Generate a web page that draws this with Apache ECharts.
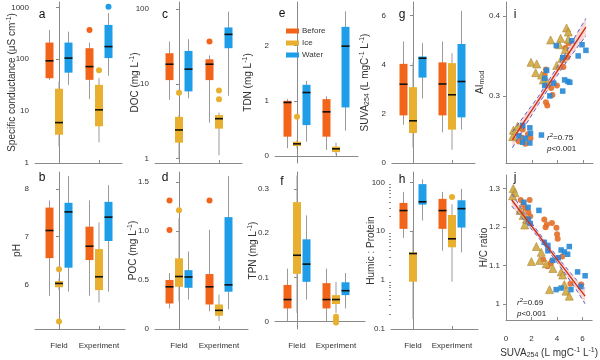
<!DOCTYPE html>
<html><head><meta charset="utf-8">
<script src="https://cdn.jsdelivr.net/npm/echarts@6/dist/echarts.min.js"></script>
<style>html,body{margin:0;padding:0;background:#fff}#c{width:600px;height:360px}</style>
</head><body><div id="c"></div>
<script>
// ---------- DATA ----------
const categories = ['Field', 'Experiment'];
const groups = ['Before', 'Ice', 'Water'];
// box stats per category: [min, Q1, median, Q3, max]
const condBefore = [[40, 43, 93, 209, 365], [17, 40, 72, 163, 209]];
const condIce    = [[2.1, 3.5, 6.0, 27, 37], [2.5, 5.1, 10.6, 32, 43]];
const condWater  = [[32, 55, 105, 209, 340], [48, 105, 175, 458, 770]];
const condOutBefore = [[], [365]];
const condOutIce    = [[], [61]];
const condOutWater  = [[], [1030]];

const phBefore = [[5.76, 6.55, 7.13, 7.61, 7.76], [5.76, 6.51, 6.80, 7.21, 7.76]];
const phIce    = [[5.88, 5.94, 6.02, 6.07, 6.12], [5.62, 5.88, 6.16, 6.74, 7.30]];
const phWater  = [[5.85, 6.35, 7.52, 7.71, 8.27], [5.85, 6.91, 7.41, 7.73, 8.08]];
const phOutBefore = [[], []];
const phOutIce    = [[6.32, 5.22], []];
const phOutWater  = [[], []];

const docBefore = [[6.1, 11.2, 18.3, 25.7, 36.8], [3.0, 11.2, 18.3, 21.3, 24]];
const docIce    = [[1.0, 1.62, 2.4, 3.6, 3.8], [1.1, 2.5, 3.4, 3.8, 4.1]];
const docWater  = [[6.4, 7.9, 15.7, 27.6, 39.6], [6.9, 30, 46, 57, 93]];
const docOutBefore = [[], [36.8]];
const docOutIce    = [[7.6], [8.1, 6.2]];
const docOutWater  = [[], []];

const pocBefore = [[0.21, 0.26, 0.43, 0.50, 0.57], [0.18, 0.25, 0.43, 0.56, 1.01]];
const pocIce    = [[0.28, 0.43, 0.535, 0.72, 1.13], [0.08, 0.135, 0.19, 0.25, 0.35]];
const pocWater  = [[0.30, 0.42, 0.53, 0.60, 0.79], [0.20, 0.38, 0.45, 1.14, 1.56]];
const pocOutBefore = [[1.31, 1.01], [1.31]];
const pocOutIce    = [[1.21], []];
const pocOutWater  = [[], []];

const tdnBefore = [[0.14, 0.35, 0.97, 1.0, 1.03], [0.11, 0.35, 0.80, 1.03, 1.08]];
const tdnIce    = [[0.14, 0.18, 0.22, 0.26, 0.29], [0.02, 0.07, 0.13, 0.17, 0.24]];
const tdnWater  = [[0.26, 0.56, 1.15, 1.29, 1.36], [0.46, 0.88, 1.99, 2.34, 2.62]];
const tdnOutBefore = [[], []];
const tdnOutIce    = [[0.71], []];
const tdnOutWater  = [[], []];

const tpnBefore = [[0.0, 0.03, 0.05, 0.083, 0.12], [0.0, 0.03, 0.05, 0.087, 0.12]];
const tpnIce    = [[0.02, 0.108, 0.15, 0.27, 0.33], [0.02, 0.04, 0.05, 0.06, 0.09]];
const tpnWater  = [[0.05, 0.09, 0.13, 0.186, 0.24], [0.03, 0.06, 0.07, 0.089, 0.11]];
const tpnOutBefore = [[], []];
const tpnOutIce    = [[], [0.011, 0.004, -0.002]];
const tpnOutWater  = [[], []];

const suvaBefore = [[1.56, 1.94, 3.21, 4.04, 4.95], [1.25, 1.94, 3.22, 4.10, 4.95]];
const suvaIce    = [[0.64, 1.22, 1.72, 3.09, 4.09], [0.54, 1.36, 2.78, 4.07, 4.47]];
const suvaWater  = [[2.63, 3.48, 4.27, 4.34, 4.88], [1.36, 1.86, 3.32, 4.85, 6.2]];
const suvaOut = [[], []];

const hpBefore = [[7.3, 11.2, 26.5, 38, 64], [4.0, 11.2, 26.5, 46, 64]];
const hpIce    = [[0.16, 0.93, 3.5, 3.7, 10.4], [0.93, 4.7, 7.0, 21.5, 35.6]];
const hpWater  = [[16.6, 35, 40, 92, 115], [3.7, 11.9, 29, 43, 74]];
const hpOutBefore = [[], []];
const hpOutIce    = [[], [50]];
const hpOutWater  = [[], []];

// scatter panel i: [SUVA254, AImod]
const aiBefore = [[4.85,0.366],[4.6,0.360],[4.75,0.348],[4.45,0.336],[3.1,0.333],[3.0,0.327],[3.95,0.313],[3.5,0.310],[3.6,0.301],[3.1,0.292],[3.2,0.288],[1.3,0.258],[1.7,0.252],[1.9,0.247],[1.5,0.240],[1.2,0.248],[1.0,0.243]];
const aiIce = [[0.52,0.249],[0.57,0.257],[0.9,0.262],[1.94,0.342],[2.38,0.340],[2.30,0.329],[2.76,0.326],[2.89,0.320],[3.2,0.318],[3.46,0.370],[3.93,0.338],[4.13,0.364],[4.24,0.372],[4.32,0.347],[4.70,0.385],[4.83,0.380],[4.83,0.371],[4.6,0.358]];
const aiWater = [[5.1,0.369],[5.9,0.364],[6.2,0.357],[5.6,0.350],[3.9,0.363],[4.4,0.348],[3.15,0.332],[3.0,0.322],[4.55,0.320],[4.8,0.318],[4.95,0.317],[3.0,0.313],[3.7,0.316],[4.4,0.306],[3.4,0.300],[1.3,0.263],[1.85,0.260],[1.9,0.253],[1.0,0.250],[1.3,0.242],[1.85,0.241],[1.5,0.247],[2.75,0.251]];
const aiFitX = [0.5, 1.5, 2.5, 3.5, 4.5, 5.5, 6.2];
const aiFit  = [0.245, 0.270, 0.294, 0.319, 0.344, 0.369, 0.386];
const aiUp   = [0.255, 0.277, 0.299, 0.324, 0.350, 0.378, 0.397];
const aiLo   = [0.235, 0.263, 0.289, 0.314, 0.338, 0.360, 0.375];

// scatter panel j: [SUVA254, H/C]
const hcBefore = [[1.15,1.270],[1.85,1.270],[1.35,1.258],[1.5,1.248],[1.75,1.238],[1.9,1.228],[3.0,1.219],[3.2,1.206],[3.6,1.210],[3.1,1.199],[3.95,1.198],[4.0,1.181],[4.05,1.169],[2.9,1.115],[3.6,1.112],[4.4,1.123],[3.25,1.098],[3.5,1.105],[5.05,1.052],[5.9,1.050]];
const hcIce = [[0.57,1.30],[0.70,1.289],[0.52,1.281],[1.09,1.243],[1.34,1.230],[1.47,1.205],[1.6,1.22],[2.38,1.149],[2.76,1.134],[1.99,1.110],[2.64,1.113],[3.15,1.104],[3.67,1.092],[4.32,1.083],[4.44,1.075],[4.57,1.050],[3.41,1.037],[4.70,1.033],[4.96,1.020]];
const hcWater = [[1.4,1.264],[1.73,1.251],[2.58,1.243],[1.9,1.209],[1.75,1.22],[3.28,1.152],[3.28,1.138],[3.0,1.16],[4.32,1.140],[4.57,1.135],[4.96,1.149],[4.83,1.129],[3.67,1.113],[4.1,1.12],[5.61,1.083],[6.2,1.073],[5.87,1.045],[3.93,1.037],[4.32,1.041],[5.09,1.037]];
const hcFitX = [0.45, 1.5, 2.5, 3.5, 4.5, 5.5, 6.2];
const hcFit  = [1.270, 1.224, 1.181, 1.137, 1.094, 1.050, 1.020];
const hcUp   = [1.286, 1.234, 1.188, 1.144, 1.103, 1.063, 1.040];
const hcLo   = [1.254, 1.214, 1.174, 1.130, 1.085, 1.037, 1.000];

// ---------- STYLE / LAYOUT ----------
const COLORS = ['#f26419', '#e9b02f', '#1e9ee8'];
const SC = {Before: '#e4702a', Ice: '#d2aa45', Water: '#2a8ad6'};
const AX = '#8a8a8a';
const TXT = '#333';
const FONT = 'Liberation Sans, Arial, sans-serif';
const OFFS = [-9.5, 0, 9.5];
const BOXW = 8;
const TICKF = 8, TITLEF = 10;
const RICH = {
  sup: {fontSize: 7, padding: [0, 0, 5, 0], fontFamily: FONT, color: TXT},
  sub: {fontSize: 7, padding: [5, 0, 0, 0], fontFamily: FONT, color: TXT}
};

// panel layouts: grid box + category tick pixel positions
const P = {
  a: {left: 35, top: 2, width: 87, height: 161, f: 59, e: 99},
  c: {left: 155, top: 2, width: 87, height: 161, f: 179, e: 219},
  e: {left: 275, top: 2, width: 83, height: 161, f: 297, e: 336},
  g: {left: 392, top: 2, width: 83, height: 161, f: 413, e: 452},
  i: {left: 506, top: 2, width: 87, height: 161},
  b: {left: 35, top: 172, width: 90, height: 157, f: 59, e: 99},
  d: {left: 155, top: 172, width: 93, height: 157, f: 179, e: 219},
  f: {left: 275, top: 172, width: 90, height: 157, f: 297, e: 336},
  h: {left: 391, top: 172, width: 87, height: 157, f: 413, e: 452},
  j: {left: 506, top: 175, width: 87, height: 150}
};
const order = ['a', 'c', 'e', 'g', 'i', 'b', 'd', 'f', 'h', 'j'];

const grids = [], xAxes = [], yAxes = [], series = [];

function yAxisDef(gi, o) {
  return Object.assign({
    gridIndex: gi, type: 'value', nameLocation: 'middle', nameRotate: 90, nameMoveOverlap: false,
    nameTextStyle: {fontSize: TITLEF, color: TXT, fontFamily: FONT, rich: RICH},
    axisLine: {show: true, lineStyle: {color: AX}},
    axisTick: {show: true, length: 3, lineStyle: {color: AX}, customValues: o.ticks},
    axisLabel: {fontSize: TICKF, color: TXT, fontFamily: FONT, margin: 6, customValues: o.ticks, formatter: o.fmt || (v => String(v))},
    splitLine: {show: false}
  }, o.axis);
}

function catXAxis(gi, L, showLabels) {
  const u = L.e - L.f;
  return {
    gridIndex: gi, type: 'value',
    min: -(L.f - L.left) / u, max: 1 + (L.left + L.width - L.e) / u,
    axisLine: {show: true, lineStyle: {color: AX}}, splitLine: {show: false},
    axisTick: {show: true, inside: true, length: 3, lineStyle: {color: AX}, customValues: [0, 1]},
    axisLabel: {show: showLabels, customValues: [0, 1], fontSize: TICKF, color: TXT, fontFamily: FONT, margin: 13,
      formatter: v => categories[Math.round(v)]}
  };
}

function boxSeries(gi, arrs, outs) {
  return groups.map((g, k) => {
    const stats = arrs[k], out = outs[k];
    return {
      type: 'custom', name: g, xAxisIndex: gi, yAxisIndex: gi, clip: false,
      itemStyle: {color: COLORS[k]},
      encode: {x: 0, y: [1, 2, 3, 4, 5]},
      data: stats.map((s, ci) => [ci].concat(s)),
      renderItem: function (params, api) {
        const ci = api.value(0);
        const cx = api.coord([ci, api.value(3)])[0] + OFFS[k];
        const yMin = api.coord([ci, api.value(1)])[1];
        const yQ1 = api.coord([ci, api.value(2)])[1];
        const yMed = api.coord([ci, api.value(3)])[1];
        const yQ3 = api.coord([ci, api.value(4)])[1];
        const yMax = api.coord([ci, api.value(5)])[1];
        const children = [
          {type: 'line', shape: {x1: cx, y1: yMin, x2: cx, y2: yMax}, style: {stroke: '#9a9a9a', lineWidth: 1}},
          {type: 'rect', shape: {x: cx - BOXW / 2, y: yQ3, width: BOXW, height: yQ1 - yQ3}, style: {fill: COLORS[k], stroke: null}},
          {type: 'line', shape: {x1: cx - BOXW / 2, y1: yMed, x2: cx + BOXW / 2, y2: yMed}, style: {stroke: '#111', lineWidth: 1.6}}
        ];
        (out[ci] || []).forEach(v => {
          const p = api.coord([ci, v]);
          children.push({type: 'circle', shape: {cx: cx, cy: p[1], r: 3}, style: {fill: COLORS[k]}});
        });
        return {type: 'group', children: children};
      }
    };
  });
}

function scatterSet(gi, pts, fitX, fit, up, lo) {
  const arr = [];
  arr.push({
    type: 'custom', xAxisIndex: gi, yAxisIndex: gi, silent: true, z: 1,
    data: [[fitX[0], fit[0]]],
    renderItem: function (params, api) {
      const ptsUp = fitX.map((x, i) => api.coord([x, up[i]]));
      const ptsLo = fitX.map((x, i) => api.coord([x, lo[i]])).reverse();
      return {type: 'polygon', shape: {points: ptsUp.concat(ptsLo)}, style: {fill: 'rgba(240,140,130,0.35)'}};
    }
  });
  [['Before', 'circle', 6], ['Ice', 'triangle', 8], ['Water', 'rect', 5.5]].forEach((s, k) => {
    arr.push({
      type: 'scatter', xAxisIndex: gi, yAxisIndex: gi, symbol: s[1], symbolSize: s[2], z: 2,
      itemStyle: {color: SC[s[0]], opacity: 0.92, borderColor: k === 1 ? '#a4802c' : null, borderWidth: k === 1 ? 0.6 : 0},
      data: pts[k]
    });
  });
  arr.push({type: 'line', xAxisIndex: gi, yAxisIndex: gi, symbol: 'none', z: 3, silent: true,
    lineStyle: {color: '#5a63c8', width: 1, type: [4, 3]}, data: fitX.map((x, i) => [x, up[i]])});
  arr.push({type: 'line', xAxisIndex: gi, yAxisIndex: gi, symbol: 'none', z: 3, silent: true,
    lineStyle: {color: '#5a63c8', width: 1, type: [4, 3]}, data: fitX.map((x, i) => [x, lo[i]])});
  arr.push({type: 'line', xAxisIndex: gi, yAxisIndex: gi, symbol: 'none', z: 4, silent: true,
    lineStyle: {color: '#d0301e', width: 1.4}, data: fitX.map((x, i) => [x, fit[i]])});
  return arr;
}

const yDefs = {
  a: {ticks: [1, 10, 100, 1000], axis: {type: 'log', logBase: 10, min: 1, max: 1265, nameGap: 17,
      name: 'Specific conductance (μS cm{sup|-1})'}},
  c: {ticks: [1, 10, 100], axis: {type: 'log', logBase: 10, min: 0.865, max: 125, nameGap: 14,
      name: 'DOC (mg L{sup|-1})'}},
  e: {ticks: [0, 1, 2], axis: {min: -0.127, max: 2.79, nameGap: 21, name: 'TDN (mg L{sup|-1})'}},
  g: {ticks: [0, 2, 4, 6], axis: {min: 0, max: 6.56, nameGap: 21, name: 'SUVA{sub|254} (L mgC{sup|-1} L{sup|-1})'}},
  i: {ticks: [0.3, 0.4], axis: {min: 0.216, max: 0.4175, nameGap: 20, name: 'AI{sub|mod}'}},
  b: {ticks: [6, 7, 8], axis: {min: 5.065, max: 8.356, nameGap: 13, name: 'pH'}},
  d: {ticks: [0, 0.5, 1.0, 1.5], fmt: v => (v === 0 ? '0' : v.toFixed(1)), axis: {min: 0, max: 1.6, nameGap: 16, name: 'POC (mg L{sup|-1})'}},
  f: {ticks: [0, 0.1, 0.2, 0.3], axis: {min: -0.0165, max: 0.338, nameGap: 16, name: 'TPN (mg L{sup|-1})'}},
  h: {ticks: [0.1, 1, 10, 100], axis: {type: 'log', logBase: 10, min: 0.1, max: 163, nameGap: 15, name: 'Humic : Protein'}},
  j: {ticks: [1, 1.1, 1.2, 1.3], axis: {min: 0.958, max: 1.335, nameGap: 17, name: 'H/C ratio'}}
};

const boxData = {
  a: [[condBefore, condIce, condWater], [condOutBefore, condOutIce, condOutWater]],
  c: [[docBefore, docIce, docWater], [docOutBefore, docOutIce, docOutWater]],
  e: [[tdnBefore, tdnIce, tdnWater], [tdnOutBefore, tdnOutIce, tdnOutWater]],
  g: [[suvaBefore, suvaIce, suvaWater], [suvaOut, suvaOut, suvaOut]],
  b: [[phBefore, phIce, phWater], [phOutBefore, phOutIce, phOutWater]],
  d: [[pocBefore, pocIce, pocWater], [pocOutBefore, pocOutIce, pocOutWater]],
  f: [[tpnBefore, tpnIce, tpnWater], [tpnOutBefore, tpnOutIce, tpnOutWater]],
  h: [[hpBefore, hpIce, hpWater], [hpOutBefore, hpOutIce, hpOutWater]]
};

order.forEach((key, gi) => {
  const L = P[key];
  grids.push({left: L.left, top: L.top, width: L.width, height: L.height, containLabel: false});
  yAxes.push(yAxisDef(gi, yDefs[key]));
  if (key === 'i' || key === 'j') {
    xAxes.push({
      gridIndex: gi, type: 'value', min: 0, max: 6.75, nameMoveOverlap: false,
      axisLine: {show: true, lineStyle: {color: AX}}, splitLine: {show: false},
      axisTick: {show: true, inside: true, length: 3, lineStyle: {color: AX}, customValues: [0, 2, 4, 6]},
      axisLabel: {show: key === 'j', customValues: [0, 2, 4, 6], fontSize: TICKF, color: TXT, fontFamily: FONT, margin: 15},
      name: key === 'j' ? 'SUVA{sub|254} (L mgC{sup|-1} L{sup|-1})' : '', nameLocation: 'middle', nameGap: 27,
      nameTextStyle: {fontSize: TITLEF, color: TXT, fontFamily: FONT, rich: RICH}
    });
    if (key === 'i') series.push(...scatterSet(gi, [aiBefore, aiIce, aiWater], aiFitX, aiFit, aiUp, aiLo));
    else series.push(...scatterSet(gi, [hcBefore, hcIce, hcWater], hcFitX, hcFit, hcUp, hcLo));
  } else {
    xAxes.push(catXAxis(gi, L, L.top > 100));
    series.push(...boxSeries(gi, boxData[key][0], boxData[key][1]));
  }
});

// minor ticks for log panel h
const hIdx = order.indexOf('h');
yAxes.push({gridIndex: hIdx, type: 'log', logBase: 10, min: 0.1, max: 163, position: 'left',
  axisLine: {show: false}, splitLine: {show: false}, axisLabel: {show: false},
  axisTick: {show: true, length: 2, lineStyle: {color: AX},
    customValues: [0.2,0.3,0.4,0.5,0.6,0.7,0.8,0.9,2,3,4,5,6,7,8,9,20,30,40,50,60,70,80,90]}});

const letters = [['a',42,15],['c',165,15],['e',282,14],['g',402,15],['i',515,15],['b',42,178],['d',165,178],['f',282,182],['h',402,180],['j',515,178]];
const graphics = letters.map(l => ({type: 'text', x: l[1], y: l[2], style: {text: l[0], fontSize: 12, fontFamily: FONT, fill: '#111', align: 'center', verticalAlign: 'middle'}}));
function statText(x, y, r2) {
  return [
    {type: 'text', x: x, y: y, style: {text: '{i|r}{s|2}=' + r2, fontSize: 8, fontFamily: FONT, fill: '#222', verticalAlign: 'middle',
      rich: {i: {fontStyle: 'italic', fontSize: 8, fontFamily: FONT}, s: {fontSize: 6, padding: [0, 0, 5, 0], fontFamily: FONT}}}},
    {type: 'text', x: x, y: y + 11, style: {text: '{i|p}<0.001', fontSize: 8, fontFamily: FONT, fill: '#222', verticalAlign: 'middle',
      rich: {i: {fontStyle: 'italic', fontSize: 8, fontFamily: FONT}}}}
  ];
}
graphics.push(...statText(547, 138, '0.75'), ...statText(517, 303, '0.69'));

const chart = echarts.init(document.getElementById('c'), null, {renderer: 'canvas'});
chart.setOption({
  animation: false,
  textStyle: {fontFamily: FONT},
  grid: grids, xAxis: xAxes, yAxis: yAxes, series: series,
  legend: {
    data: groups, orient: 'vertical', left: 281, top: 22, icon: 'rect', itemWidth: 13, itemHeight: 5, itemGap: 4,
    textStyle: {fontSize: 8, color: TXT, fontFamily: FONT, padding: [0, 0, 0, -2]}
  },
  graphic: graphics
});
</script></body></html>
